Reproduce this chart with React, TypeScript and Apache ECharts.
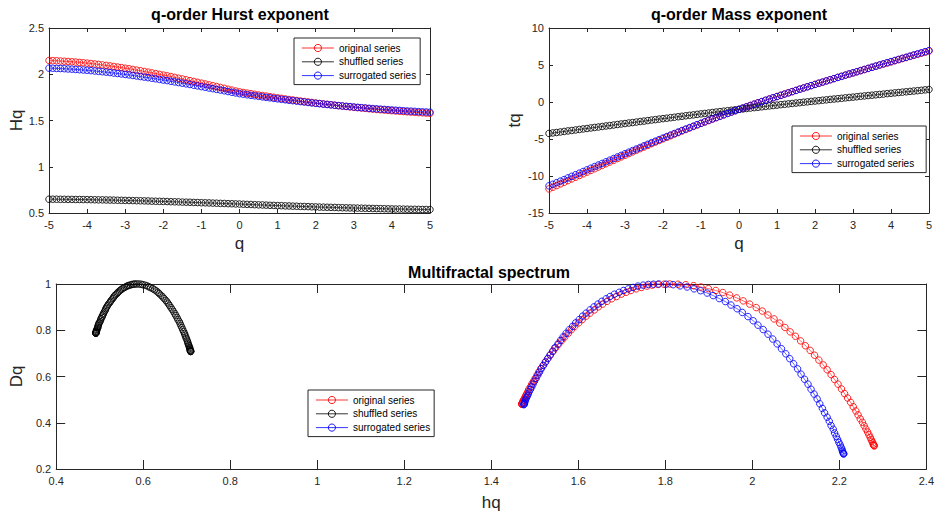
import React, { useEffect, useRef } from 'react';
import * as echarts from 'echarts';

// q from -5 to 5, step 0.1
const qValues = [
  -5, -4.9, -4.8, -4.7, -4.6, -4.5, -4.4, -4.3, -4.2, -4.1,
  -4, -3.9, -3.8, -3.7, -3.6, -3.5, -3.4, -3.3, -3.2, -3.1,
  -3, -2.9, -2.8, -2.7, -2.6, -2.5, -2.4, -2.3, -2.2, -2.1,
  -2, -1.9, -1.8, -1.7, -1.6, -1.5, -1.4, -1.3, -1.2, -1.1,
  -1, -0.9, -0.8, -0.7, -0.6, -0.5, -0.4, -0.3, -0.2, -0.1,
  0, 0.1, 0.2, 0.3, 0.4, 0.5, 0.6, 0.7, 0.8, 0.9,
  1, 1.1, 1.2, 1.3, 1.4, 1.5, 1.6, 1.7, 1.8, 1.9,
  2, 2.1, 2.2, 2.3, 2.4, 2.5, 2.6, 2.7, 2.8, 2.9,
  3, 3.1, 3.2, 3.3, 3.4, 3.5, 3.6, 3.7, 3.8, 3.9,
  4, 4.1, 4.2, 4.3, 4.4, 4.5, 4.6, 4.7, 4.8, 4.9,
  5,
];

// q-order Hurst exponent Hq
const hurstOriginal = [
  2.149, 2.147, 2.146, 2.143, 2.141, 2.138, 2.135, 2.132, 2.128, 2.124,
  2.120, 2.116, 2.111, 2.106, 2.101, 2.096, 2.090, 2.084, 2.078, 2.072,
  2.065, 2.059, 2.052, 2.045, 2.038, 2.030, 2.023, 2.015, 2.007, 1.999,
  1.991, 1.983, 1.975, 1.966, 1.957, 1.949, 1.940, 1.931, 1.922, 1.913,
  1.904, 1.895, 1.885, 1.876, 1.867, 1.857, 1.848, 1.838, 1.829, 1.819,
  1.810, 1.803, 1.796, 1.790, 1.783, 1.776, 1.770, 1.764, 1.757, 1.751,
  1.745, 1.739, 1.733, 1.727, 1.722, 1.716, 1.711, 1.705, 1.700, 1.695,
  1.689, 1.684, 1.679, 1.674, 1.670, 1.665, 1.660, 1.656, 1.652, 1.647,
  1.643, 1.639, 1.635, 1.631, 1.627, 1.623, 1.620, 1.616, 1.613, 1.609,
  1.606, 1.603, 1.600, 1.597, 1.594, 1.591, 1.588, 1.585, 1.583, 1.580,
  1.578,
];
const hurstShuffled = [
  0.649, 0.649, 0.649, 0.648, 0.648, 0.647, 0.647, 0.646, 0.646, 0.645,
  0.645, 0.644, 0.643, 0.642, 0.642, 0.641, 0.640, 0.639, 0.638, 0.637,
  0.636, 0.635, 0.634, 0.633, 0.632, 0.631, 0.630, 0.628, 0.627, 0.626,
  0.625, 0.624, 0.622, 0.621, 0.620, 0.618, 0.617, 0.616, 0.614, 0.613,
  0.611, 0.610, 0.609, 0.607, 0.606, 0.604, 0.603, 0.601, 0.600, 0.598,
  0.597, 0.595, 0.593, 0.592, 0.590, 0.588, 0.587, 0.585, 0.583, 0.582,
  0.580, 0.579, 0.577, 0.576, 0.574, 0.573, 0.571, 0.570, 0.569, 0.567,
  0.566, 0.564, 0.563, 0.562, 0.561, 0.560, 0.558, 0.557, 0.556, 0.555,
  0.554, 0.553, 0.552, 0.551, 0.550, 0.549, 0.548, 0.547, 0.546, 0.545,
  0.544, 0.543, 0.543, 0.542, 0.541, 0.540, 0.540, 0.539, 0.538, 0.538,
  0.537,
];
const hurstSurrogated = [
  2.066, 2.065, 2.063, 2.062, 2.060, 2.057, 2.055, 2.052, 2.049, 2.046,
  2.043, 2.039, 2.035, 2.031, 2.027, 2.023, 2.018, 2.013, 2.008, 2.003,
  1.998, 1.993, 1.987, 1.981, 1.975, 1.969, 1.963, 1.957, 1.951, 1.944,
  1.937, 1.931, 1.924, 1.917, 1.910, 1.903, 1.896, 1.889, 1.881, 1.874,
  1.866, 1.859, 1.851, 1.844, 1.836, 1.829, 1.821, 1.813, 1.805, 1.798,
  1.790, 1.784, 1.778, 1.772, 1.767, 1.761, 1.755, 1.750, 1.745, 1.739,
  1.734, 1.729, 1.724, 1.719, 1.714, 1.709, 1.704, 1.700, 1.695, 1.690,
  1.686, 1.682, 1.677, 1.673, 1.669, 1.665, 1.661, 1.657, 1.653, 1.650,
  1.646, 1.642, 1.639, 1.636, 1.632, 1.629, 1.626, 1.623, 1.620, 1.617,
  1.614, 1.611, 1.609, 1.606, 1.603, 1.601, 1.599, 1.596, 1.594, 1.592,
  1.590,
];

// q-order Mass exponent tq
const massOriginal = [
  -11.75, -11.52, -11.30, -11.07, -10.85, -10.62, -10.39, -10.17, -9.94, -9.71,
  -9.48, -9.25, -9.02, -8.79, -8.56, -8.34, -8.11, -7.88, -7.65, -7.42,
  -7.20, -6.97, -6.75, -6.52, -6.30, -6.08, -5.86, -5.63, -5.42, -5.20,
  -4.98, -4.77, -4.56, -4.34, -4.13, -3.92, -3.72, -3.51, -3.31, -3.10,
  -2.90, -2.71, -2.51, -2.31, -2.12, -1.93, -1.74, -1.55, -1.37, -1.18,
  -1.00, -0.82, -0.64, -0.46, -0.29, -0.11, 0.06, 0.23, 0.41, 0.58,
  0.75, 0.91, 1.08, 1.25, 1.41, 1.57, 1.74, 1.90, 2.06, 2.22,
  2.38, 2.54, 2.69, 2.85, 3.01, 3.16, 3.32, 3.47, 3.63, 3.78,
  3.93, 4.08, 4.23, 4.38, 4.53, 4.68, 4.83, 4.98, 5.13, 5.28,
  5.42, 5.57, 5.72, 5.87, 6.01, 6.16, 6.30, 6.45, 6.60, 6.74,
  6.89,
];
const massShuffled = [
  -4.25, -4.18, -4.12, -4.05, -3.98, -3.91, -3.85, -3.78, -3.71, -3.64,
  -3.58, -3.51, -3.44, -3.38, -3.31, -3.24, -3.18, -3.11, -3.04, -2.97,
  -2.91, -2.84, -2.78, -2.71, -2.64, -2.58, -2.51, -2.44, -2.38, -2.31,
  -2.25, -2.19, -2.12, -2.06, -1.99, -1.93, -1.86, -1.80, -1.74, -1.67,
  -1.61, -1.55, -1.49, -1.42, -1.36, -1.30, -1.24, -1.18, -1.12, -1.06,
  -1.00, -0.94, -0.88, -0.82, -0.76, -0.71, -0.65, -0.59, -0.53, -0.48,
  -0.42, -0.36, -0.31, -0.25, -0.20, -0.14, -0.09, -0.03, 0.02, 0.08,
  0.13, 0.18, 0.24, 0.29, 0.35, 0.40, 0.45, 0.50, 0.56, 0.61,
  0.66, 0.71, 0.77, 0.82, 0.87, 0.92, 0.97, 1.02, 1.07, 1.13,
  1.18, 1.23, 1.28, 1.33, 1.38, 1.43, 1.48, 1.53, 1.58, 1.64,
  1.69,
];
const massSurrogated = [
  -11.33, -11.12, -10.90, -10.69, -10.48, -10.26, -10.04, -9.82, -9.61, -9.39,
  -9.17, -8.95, -8.73, -8.51, -8.30, -8.08, -7.86, -7.64, -7.43, -7.21,
  -6.99, -6.78, -6.56, -6.35, -6.14, -5.92, -5.71, -5.50, -5.29, -5.08,
  -4.87, -4.67, -4.46, -4.26, -4.06, -3.85, -3.65, -3.46, -3.26, -3.06,
  -2.87, -2.67, -2.48, -2.29, -2.10, -1.91, -1.73, -1.54, -1.36, -1.18,
  -1.00, -0.82, -0.64, -0.47, -0.29, -0.12, 0.05, 0.23, 0.40, 0.57,
  0.73, 0.90, 1.07, 1.23, 1.40, 1.56, 1.73, 1.89, 2.05, 2.21,
  2.37, 2.53, 2.69, 2.85, 3.01, 3.16, 3.32, 3.47, 3.63, 3.79,
  3.94, 4.09, 4.24, 4.40, 4.55, 4.70, 4.85, 5.01, 5.16, 5.31,
  5.46, 5.61, 5.76, 5.91, 6.05, 6.20, 6.36, 6.50, 6.65, 6.80,
  6.95,
];

// Multifractal spectrum: hq (singularity) and Dq, ordered by q = -5 ... 5
const hqOriginal = [
  2.280, 2.280, 2.279, 2.278, 2.277, 2.275, 2.273, 2.271, 2.268, 2.265,
  2.261, 2.257, 2.253, 2.248, 2.243, 2.238, 2.232, 2.226, 2.219, 2.212,
  2.205, 2.197, 2.189, 2.181, 2.172, 2.163, 2.153, 2.143, 2.133, 2.122,
  2.111, 2.099, 2.087, 2.075, 2.063, 2.050, 2.036, 2.023, 2.009, 1.994,
  1.979, 1.964, 1.948, 1.932, 1.916, 1.899, 1.882, 1.865, 1.847, 1.829,
  1.810, 1.797, 1.783, 1.770, 1.758, 1.745, 1.733, 1.721, 1.710, 1.699,
  1.688, 1.677, 1.666, 1.656, 1.646, 1.637, 1.627, 1.618, 1.609, 1.601,
  1.592, 1.584, 1.577, 1.569, 1.562, 1.555, 1.548, 1.542, 1.536, 1.530,
  1.524, 1.519, 1.514, 1.509, 1.505, 1.501, 1.497, 1.493, 1.490, 1.486,
  1.484, 1.481, 1.479, 1.477, 1.475, 1.473, 1.472, 1.471, 1.471, 1.470,
  1.470,
];
const dqOriginal = [
  0.300, 0.301, 0.303, 0.307, 0.313, 0.320, 0.328, 0.337, 0.348, 0.360,
  0.373, 0.387, 0.402, 0.417, 0.434, 0.451, 0.469, 0.488, 0.507, 0.526,
  0.546, 0.567, 0.587, 0.608, 0.629, 0.650, 0.671, 0.692, 0.713, 0.733,
  0.754, 0.774, 0.793, 0.812, 0.831, 0.849, 0.866, 0.883, 0.898, 0.913,
  0.927, 0.940, 0.952, 0.963, 0.972, 0.980, 0.987, 0.993, 0.997, 0.999,
  1.000, 0.999, 0.998, 0.995, 0.991, 0.985, 0.979, 0.972, 0.964, 0.956,
  0.946, 0.936, 0.925, 0.913, 0.901, 0.888, 0.874, 0.861, 0.846, 0.832,
  0.817, 0.802, 0.787, 0.771, 0.756, 0.740, 0.724, 0.709, 0.693, 0.678,
  0.663, 0.648, 0.634, 0.619, 0.606, 0.592, 0.579, 0.567, 0.555, 0.544,
  0.534, 0.524, 0.516, 0.508, 0.501, 0.495, 0.489, 0.485, 0.482, 0.481,
  0.480,
];
const hqShuffled = [
  0.709, 0.709, 0.709, 0.709, 0.708, 0.708, 0.707, 0.707, 0.706, 0.705,
  0.704, 0.703, 0.702, 0.701, 0.699, 0.698, 0.696, 0.695, 0.693, 0.691,
  0.689, 0.687, 0.685, 0.683, 0.680, 0.678, 0.675, 0.673, 0.670, 0.667,
  0.664, 0.661, 0.658, 0.655, 0.652, 0.648, 0.645, 0.641, 0.637, 0.634,
  0.630, 0.626, 0.622, 0.617, 0.613, 0.609, 0.604, 0.599, 0.595, 0.590,
  0.585, 0.581, 0.578, 0.574, 0.571, 0.567, 0.564, 0.561, 0.557, 0.554,
  0.551, 0.548, 0.545, 0.542, 0.540, 0.537, 0.534, 0.532, 0.530, 0.527,
  0.525, 0.523, 0.520, 0.518, 0.516, 0.514, 0.513, 0.511, 0.509, 0.508,
  0.506, 0.505, 0.503, 0.502, 0.501, 0.499, 0.498, 0.497, 0.496, 0.496,
  0.495, 0.494, 0.493, 0.493, 0.492, 0.492, 0.492, 0.491, 0.491, 0.491,
  0.491,
];
const dqShuffled = [
  0.708, 0.708, 0.709, 0.711, 0.713, 0.716, 0.720, 0.724, 0.728, 0.733,
  0.738, 0.744, 0.750, 0.757, 0.764, 0.771, 0.779, 0.786, 0.794, 0.802,
  0.811, 0.819, 0.828, 0.837, 0.845, 0.854, 0.863, 0.871, 0.880, 0.889,
  0.897, 0.906, 0.914, 0.922, 0.929, 0.937, 0.944, 0.951, 0.958, 0.964,
  0.970, 0.975, 0.980, 0.984, 0.988, 0.992, 0.995, 0.997, 0.999, 1.000,
  1.000, 1.000, 0.999, 0.998, 0.996, 0.994, 0.992, 0.989, 0.985, 0.982,
  0.978, 0.974, 0.969, 0.964, 0.959, 0.954, 0.949, 0.943, 0.937, 0.931,
  0.925, 0.919, 0.913, 0.906, 0.900, 0.894, 0.887, 0.881, 0.874, 0.868,
  0.862, 0.856, 0.850, 0.844, 0.838, 0.833, 0.828, 0.823, 0.818, 0.813,
  0.809, 0.805, 0.802, 0.798, 0.795, 0.793, 0.791, 0.789, 0.788, 0.787,
  0.787,
];
const hqSurrogated = [
  2.210, 2.210, 2.209, 2.208, 2.207, 2.206, 2.204, 2.202, 2.199, 2.196,
  2.193, 2.189, 2.186, 2.181, 2.177, 2.172, 2.166, 2.161, 2.155, 2.149,
  2.142, 2.135, 2.128, 2.120, 2.112, 2.104, 2.095, 2.086, 2.077, 2.067,
  2.057, 2.047, 2.036, 2.025, 2.013, 2.002, 1.990, 1.977, 1.965, 1.951,
  1.938, 1.924, 1.910, 1.896, 1.881, 1.866, 1.850, 1.834, 1.818, 1.802,
  1.785, 1.773, 1.761, 1.749, 1.737, 1.726, 1.715, 1.704, 1.694, 1.683,
  1.673, 1.664, 1.654, 1.645, 1.636, 1.627, 1.618, 1.610, 1.602, 1.594,
  1.587, 1.579, 1.572, 1.565, 1.559, 1.553, 1.546, 1.541, 1.535, 1.530,
  1.525, 1.520, 1.515, 1.511, 1.507, 1.503, 1.499, 1.496, 1.493, 1.490,
  1.487, 1.485, 1.483, 1.481, 1.479, 1.478, 1.477, 1.476, 1.476, 1.475,
  1.475,
];
const dqSurrogated = [
  0.265, 0.266, 0.268, 0.273, 0.278, 0.286, 0.294, 0.304, 0.315, 0.328,
  0.341, 0.356, 0.372, 0.388, 0.406, 0.424, 0.443, 0.462, 0.482, 0.503,
  0.524, 0.545, 0.567, 0.588, 0.610, 0.633, 0.655, 0.677, 0.698, 0.720,
  0.741, 0.762, 0.783, 0.803, 0.822, 0.841, 0.859, 0.877, 0.893, 0.909,
  0.924, 0.937, 0.950, 0.961, 0.971, 0.979, 0.987, 0.992, 0.997, 0.999,
  1.000, 0.999, 0.998, 0.995, 0.991, 0.985, 0.979, 0.972, 0.964, 0.956,
  0.946, 0.936, 0.925, 0.913, 0.901, 0.888, 0.874, 0.861, 0.846, 0.832,
  0.817, 0.802, 0.787, 0.771, 0.756, 0.740, 0.724, 0.709, 0.693, 0.678,
  0.663, 0.648, 0.634, 0.619, 0.606, 0.592, 0.579, 0.567, 0.555, 0.544,
  0.534, 0.524, 0.516, 0.508, 0.501, 0.495, 0.489, 0.485, 0.482, 0.480,
  0.478,
];

const seriesNames = ['original series', 'shuffled series', 'surrogated series'];
const seriesColors = ['#ff0000', '#000000', '#0000ff'];

const AXIS = '#262626';
const FONT = "'Liberation Sans', Arial, Helvetica, sans-serif";

const pairs = (xs: number[], ys: number[]) => xs.map((x, i) => [x, ys[i]]);

function lineSeries(idx: number, data: number[][], axisIndex: number) {
  const color = seriesColors[idx];
  return {
    type: 'line',
    name: seriesNames[idx],
    data,
    xAxisIndex: axisIndex,
    yAxisIndex: axisIndex,
    symbol: 'circle',
    symbolSize: 6.5,
    showSymbol: true,
    showAllSymbol: true,
    clip: false,
    silent: true,
    lineStyle: { color, width: 0.6 },
    itemStyle: { color: 'transparent', borderColor: color, borderWidth: 0.85 },
    emphasis: { disabled: true },
  };
}

function axisPair(
  kind: 'x' | 'y',
  gridIndex: number,
  min: number,
  max: number,
  interval: number,
  name: string,
  tickLen: number,
  nameGap: number,
) {
  const common = {
    type: 'value',
    gridIndex,
    min,
    max,
    interval,
    axisLine: { show: true, onZero: false, lineStyle: { color: AXIS, width: 1 } },
    axisTick: { show: true, inside: true, length: tickLen, lineStyle: { color: AXIS, width: 1 } },
    splitLine: { show: false },
  };
  const main = {
    ...common,
    position: kind === 'x' ? 'bottom' : 'left',
    name,
    nameLocation: 'middle',
    nameGap,
    nameRotate: kind === 'y' ? 90 : 0,
    nameTextStyle: { color: AXIS, fontSize: 17, fontFamily: FONT },
    axisLabel: { color: AXIS, fontSize: 11, fontFamily: FONT, margin: kind === 'x' ? 6 : 5 },
  };
  const mirror = {
    ...common,
    position: kind === 'x' ? 'top' : 'right',
    axisLabel: { show: false },
  };
  return [main, mirror];
}

function legendAt(left: number, top: number, padding: number[]) {
  return {
    orient: 'vertical',
    left,
    top,
    data: seriesNames,
    itemWidth: 32,
    itemHeight: 9,
    itemGap: 1.8,
    padding,
    backgroundColor: '#ffffff',
    borderColor: AXIS,
    borderWidth: 1,
    borderRadius: 0,
    selectedMode: false,
    lineStyle: { width: 0.8 },
    itemStyle: { borderWidth: 0.9 },
    textStyle: { color: '#000000', fontSize: 10, fontFamily: FONT, lineHeight: 12 },
  };
}

const titleStyle = { color: '#000000', fontSize: 16, fontWeight: 'bold', fontFamily: FONT };

export default function App() {
  const ref = useRef<HTMLDivElement>(null);

  useEffect(() => {
    if (!ref.current) return;
    const chart = echarts.init(ref.current, undefined, { renderer: 'svg' });

    const hurstSets = [hurstOriginal, hurstShuffled, hurstSurrogated];
    const massSets = [massOriginal, massShuffled, massSurrogated];
    const hqSets = [hqOriginal, hqShuffled, hqSurrogated];
    const dqSets = [dqOriginal, dqShuffled, dqSurrogated];

    const series: any[] = [];
    for (let i = 0; i < 3; i++) series.push(lineSeries(i, pairs(qValues, hurstSets[i]), 0));
    for (let i = 0; i < 3; i++) series.push(lineSeries(i, pairs(qValues, massSets[i]), 2));
    for (let i = 0; i < 3; i++) series.push(lineSeries(i, pairs(hqSets[i], dqSets[i]), 4));

    const option: any = {
      animation: false,
      backgroundColor: '#ffffff',
      textStyle: { fontFamily: FONT },
      title: [
        { text: 'q-order Hurst exponent', left: 240, top: 6, textAlign: 'center', padding: 0, textStyle: titleStyle },
        { text: 'q-order Mass exponent', left: 739, top: 6, textAlign: 'center', padding: 0, textStyle: titleStyle },
        { text: 'Multifractal spectrum', left: 489, top: 264, textAlign: 'center', padding: 0, textStyle: titleStyle },
      ],
      grid: [
        { left: 49, top: 28, width: 381, height: 185 },
        { left: 549, top: 28, width: 380, height: 185 },
        { left: 49, top: 284, width: 880, height: 185 },
      ],
      xAxis: [
        ...axisPair('x', 0, -5, 5, 1, 'q', 4, 22),
        ...axisPair('x', 1, -5, 5, 1, 'q', 4, 22),
        ...axisPair('x', 2, 0.4, 2.4, 0.2, 'hq', 9, 25),
      ],
      yAxis: [
        ...axisPair('y', 0, 0.5, 2.5, 0.5, 'Hq', 4, 23),
        ...axisPair('y', 1, -15, 10, 5, 'tq', 4, 26),
        ...axisPair('y', 2, 0.2, 1, 0.2, 'Dq', 9, 23),
      ],
      legend: [
        legendAt(294, 38, [4, 4, 3, 7.5]),
        legendAt(792, 126, [4, 12, 3, 7.5]),
        legendAt(308, 390, [4, 4, 3, 7.5]),
      ],
      series,
    };

    chart.setOption(option);
    return () => {
      chart.dispose();
    };
  }, []);

  return (
    <div
      ref={ref}
      style={{ position: 'absolute', left: 0, top: 0, width: 937, height: 513, background: '#ffffff' }}
    />
  );
}
